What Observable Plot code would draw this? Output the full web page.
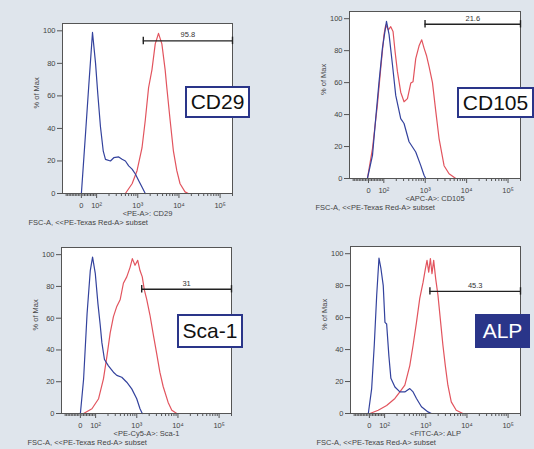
<!DOCTYPE html>
<html><head><meta charset="utf-8">
<script src="https://cdn.jsdelivr.net/npm/d3@7"></script>
<script src="https://cdn.jsdelivr.net/npm/@observablehq/plot@0.6"></script>
<style>
body{margin:0;background:#dfe5ec;}
#fig{position:relative;width:534px;height:449px;overflow:hidden;font-family:"Liberation Sans",Arial,sans-serif;background:#dfe5ec;}
.panel{position:absolute;}
.tag{position:absolute;box-sizing:border-box;border:2px solid #2a3589;background:#fff;color:#111;font-size:21px;display:flex;align-items:center;justify-content:center;z-index:2;}
.tag.filled{background:#2a3589;color:#fff;}
</style></head><body><div id="fig"></div>
<script>
// ---- data (intensity, % of max) ----
const markers = ["CD29", "CD105", "Sca-1", "ALP"];
const channels = ["<PE-A>: CD29", "<APC-A>: CD105", "<PE-Cy5-A>: Sca-1", "<FITC-A>: ALP"];
const subsetLabel = "FSC-A, <<PE-Texas Red-A> subset";
const yLabel = "% of Max";
const gateLabels = ["95.8", "21.6", "31", "45.3"];
const gateLevels = [93.8, 96.5, 78.2, 76.4];
const gateStarts = [1361, 990, 1318, 1260];
const gateEnd = 200000;

const xRange = [-124, 200000];
const yRange = [0, 104.5];
const yTicks = [0, 20, 40, 60, 80, 100];
const majorValues = [0, 100, 1000, 10000, 100000];
const majorLabels = ["0", "10²", "10³", "10⁴", "10⁵"];
const minorValues = [-100,-90,-80,-70,-60,-50,-40,-30,-20,-10,10,20,30,40,50,60,70,80,90,
  200,300,400,500,600,700,800,900,2000,3000,4000,5000,6000,7000,8000,9000,
  20000,30000,40000,50000,60000,70000,80000,90000,200000];

const cd29Control = [[-124,0],[0,0],[17,23],[28,38],[49,67],[73,99],[93,80],[107,61],[124,41],[145,26],[164,21],[217,20],[261,22],[344,22.5],[416,21],[500,20],[601,17],[727,15],[873,12],[1047,8],[1265,4],[1521,0]];
const cd29Stain = [[500,0],[727,6],[960,14],[1265,28],[1521,45],[1828,65],[2208,76],[2655,92],[3187,98.4],[3846,92],[4624,76],[5080,65],[6107,45],[7345,26],[8872,14],[10650,6],[14060,1],[16900,0]];

const cd105Control = [[-124,0],[-7,0],[26,14.5],[47,37.5],[69,60.6],[91,81.6],[116,98.4],[134,90],[162,71],[194,52],[256,37.5],[308,34.4],[407,23],[590,16.6],[778,8.2],[937,2],[1030,0]];
const cd105Stain = [[-7,0],[26,18.7],[58,46],[80,69],[101,90],[111,96],[129,93],[147,95],[167,92],[187,79.5],[213,67],[256,54],[308,48],[372,50],[448,59.7],[508,60.6],[590,75],[710,83],[824,86.8],[937,81.6],[1072,77],[1239,70],[1496,60],[1799,42],[2159,25],[2851,8],[3765,3],[5467,0]];

const sca1Control = [[-124,0],[0,0],[21,21.6],[44,63],[65,90],[80,98.5],[98,88],[114,69],[129,56],[142,44.6],[164,34],[205,30],[271,26],[327,24],[432,22.8],[571,19.7],[755,15.5],[997,9.3],[1197,3],[1360,0]];
const sca1Stain = [[21,0],[76,3],[118,9.3],[155,21.8],[188,36],[226,50.8],[271,61],[327,67.4],[394,71.6],[473,82],[571,86],[687,92],[780,97.5],[906,93.3],[1054,96.4],[1197,90],[1360,86],[1521,78],[1738,72],[2089,62],[2508,50],[3030,38],[3639,26],[4375,17],[5780,7],[7096,2],[9376,0]];

const alpControl = [[-124,0],[-7,0],[15,15.6],[32,42.7],[48,74],[63,97.3],[76,90.6],[91,80],[102,57],[112,56],[127,36],[142,22],[178,16.6],[235,13.5],[310,13.5],[409,15.6],[492,13.5],[594,9.4],[785,4.2],[1133,1],[1368,0]];
const alpStain = [[4,0],[58,2],[112,5],[178,9.4],[235,13.5],[310,17.7],[409,30],[492,42.7],[594,57],[714,72],[858,82],[980,90.6],[1071,95.8],[1178,88.5],[1294,96.9],[1415,87.5],[1556,95.8],[1739,84.4],[1976,74],[2297,57],[2609,42.7],[2980,30],[3443,17.7],[4159,7.3],[5495,2],[7943,0]];

const controls = [cd29Control, cd105Control, sca1Control, alpControl];
const stains = [cd29Stain, cd105Stain, sca1Stain, alpStain];

// ---- layout & style ----
const layout = [
  {left: 62, top: 23, w: 170, h: 170, tag: {left: 185, top: 86, w: 65, h: 32, filled: false}},
  {left: 349, top: 11, w: 171, h: 167, tag: {left: 457, top: 87, w: 77, h: 31, filled: false}},
  {left: 61, top: 247, w: 170, h: 166, tag: {left: 177, top: 314, w: 66, h: 34, filled: false}},
  {left: 350, top: 246, w: 170, h: 167, tag: {left: 475, top: 314, w: 55, h: 34, filled: true}}
];
const BLUE = "#33429d", RED = "#e2545e", INK = "#444";
const FONT = "'Liberation Sans', Arial, sans-serif";

// logicle-like display transform: linear near zero, log10 above 100
const LIN = 0.37;
const logicle = v => v >= 100 ? Math.log10(v) : 2 - LIN + LIN * v / 100;
const majorU = majorValues.map(logicle);

const fig = document.getElementById("fig");
const ML = 62, MT = 10, MR = 8, MB = 36;

layout.forEach((L, i) => {
  const gy = gateLevels[i];
  const g0 = logicle(gateStarts[i]), g1 = logicle(gateEnd);
  const chart = Plot.plot({
    width: ML + L.w + MR, height: MT + L.h + MB,
    marginLeft: ML, marginTop: MT, marginRight: MR, marginBottom: MB,
    x: {domain: xRange.map(logicle), axis: null},
    y: {domain: yRange, axis: null},
    style: {background: "transparent", fontFamily: FONT, fontSize: "7.5px", color: INK, overflow: "visible"},
    marks: [
      Plot.frame({fill: "white", stroke: "none"}),
      Plot.axisY({ticks: yTicks, tickSize: 5, tickPadding: 2, label: null, stroke: "#555", fill: INK}),
      Plot.axisX({ticks: minorValues.map(logicle), tickSize: 3, tickFormat: () => "", label: null, stroke: "#555"}),
      Plot.axisX({ticks: majorU, tickSize: 5, tickPadding: 4, tickFormat: d => majorLabels[majorU.indexOf(d)], label: null, stroke: "#555", fill: INK}),
      Plot.line(stains[i], {x: d => logicle(d[0]), y: d => d[1], stroke: RED, strokeWidth: 1.2}),
      Plot.line(controls[i], {x: d => logicle(d[0]), y: d => d[1], stroke: BLUE, strokeWidth: 1.2}),
      Plot.frame({stroke: "#555", strokeWidth: 1}),
      Plot.ruleY([gy], {x1: g0, x2: g1, y: d => d, stroke: "#222", strokeWidth: 1.4}),
      Plot.ruleX([g0, g1], {x: d => d, y1: gy - 2.3, y2: gy + 2.3, stroke: "#222", strokeWidth: 1.4}),
      Plot.text([gateLabels[i]], {text: d => d, x: (g0 + g1) / 2, y: gy, dy: -6, fill: "#333", fontSize: 7.5}),
      Plot.text([yLabel], {text: d => d, frameAnchor: "left", dx: -26, rotate: -90, fill: INK}),
      Plot.text([channels[i]], {text: d => d, frameAnchor: "bottom", dy: 22, fill: INK}),
      Plot.text([subsetLabel], {text: d => d, frameAnchor: "bottom-left", dx: -34, dy: 31, textAnchor: "start", fill: INK})
    ]
  });
  chart.classList.add("panel");
  chart.style.left = (L.left - ML) + "px";
  chart.style.top = (L.top - MT) + "px";
  fig.appendChild(chart);

  const t = document.createElement("div");
  t.className = "tag" + (L.tag.filled ? " filled" : "");
  t.style.left = L.tag.left + "px";
  t.style.top = L.tag.top + "px";
  t.style.width = L.tag.w + "px";
  t.style.height = L.tag.h + "px";
  t.textContent = markers[i];
  fig.appendChild(t);
});
</script></body></html>
